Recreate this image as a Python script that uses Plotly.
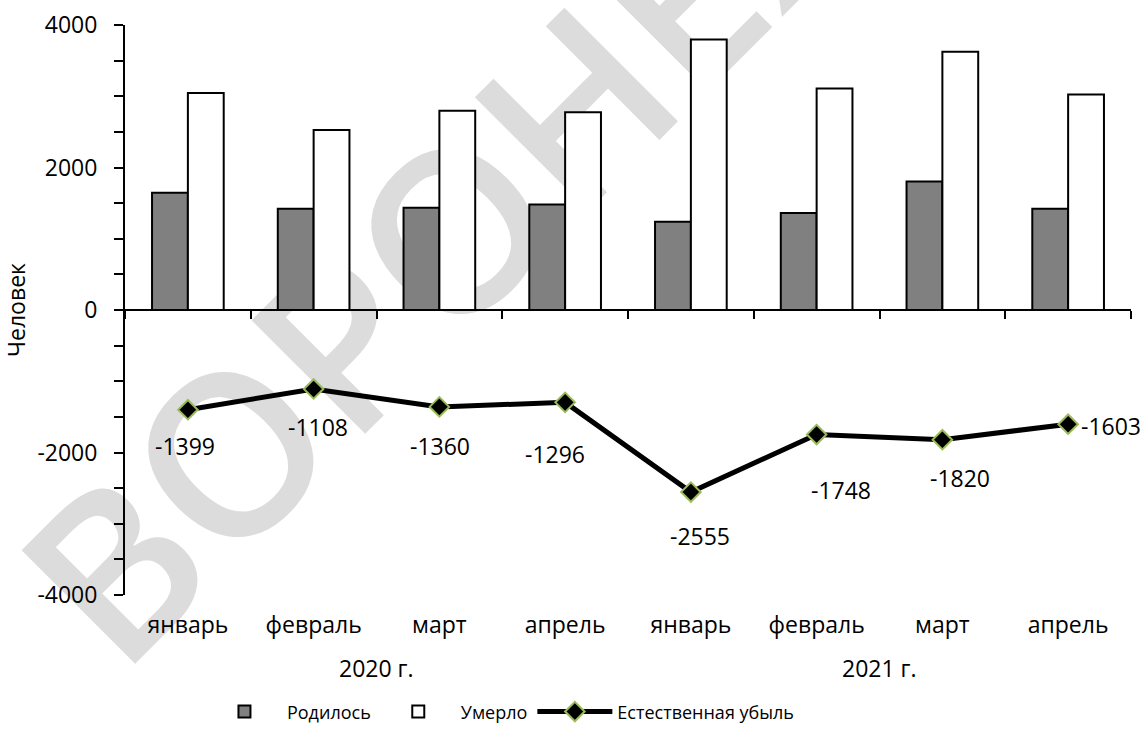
import plotly.graph_objects as go

years = ["2020 г.", "2021 г."]
months = ["январь", "февраль", "март", "апрель", "январь", "февраль", "март", "апрель"]
point_year = [years[0]] * 4 + [years[1]] * 4
born = [1645, 1420, 1435, 1480, 1240, 1360, 1805, 1420]
died = [3044, 2528, 2795, 2776, 3795, 3108, 3625, 3023]
natural_loss = [-1399, -1108, -1360, -1296, -2555, -1748, -1820, -1603]
y_ticks = [-4000, -2000, 0, 2000, 4000]
y_tick_text = ["-4000", "-2000", "0", "2000", "4000"]
# label offsets (px): dx right, dy down
label_dx = [-3, 4, 1, -10, 9, 24, 18, 43]
label_dy = [36, 38, 39, 52, 44, 55, 38, 2]

FONT = "Open Sans"
FS = 23
idx = list(range(len(months)))

fig = go.Figure()
fig.add_trace(go.Bar(
    name="Родилось", x=idx, y=born,
    marker=dict(color="#808080", line=dict(color="black", width=2)),
    hoverinfo="skip"))
fig.add_trace(go.Bar(
    name="Умерло", x=idx, y=died,
    marker=dict(color="white", line=dict(color="black", width=2)),
    hoverinfo="skip"))
fig.add_trace(go.Scatter(
    name="Естественная убыль", x=idx, y=natural_loss, xaxis="x2",
    mode="lines+markers",
    line=dict(color="black", width=5),
    marker=dict(symbol="diamond", size=15, color="black",
                line=dict(color="#9bbb59", width=2)),
    hoverinfo="skip"))

for i, v in enumerate(natural_loss):
    fig.add_annotation(x=i, y=v, xref="x", yref="y", text=str(v),
                       showarrow=False, xshift=label_dx[i], yshift=-label_dy[i],
                       font=dict(family=FONT, size=FS, color="black"))

# year group labels centred under their months
for yname in years:
    pos = [i for i in idx if point_year[i] == yname]
    fig.add_annotation(x=sum(pos) / len(pos), y=0, xref="x", yref="paper",
                       text=yname, showarrow=False, yanchor="middle", yshift=-73,
                       font=dict(family=FONT, size=FS, color="black"))

fig.add_shape(type="line", xref="paper", yref="paper",
              x0=0.334, y0=0.647, x1=0.354, y1=0.647,
              line=dict(width=0, color="rgba(0,0,0,0)"), layer="below",
              label=dict(text="ВОРОНЕЖ", textposition="middle", textangle=-45,
                         xanchor="center", yanchor="middle", padding=0,
                         font=dict(family=FONT, size=225, color="#dcdcdc", weight=600)))

fig.update_layout(
    width=1148, height=746,
    margin=dict(l=125, r=17, t=25, b=151, autoexpand=False),
    paper_bgcolor="white", plot_bgcolor="rgba(0,0,0,0)",
    barmode="group", bargap=0.43, bargroupgap=0,
    font=dict(family=FONT, size=FS, color="black"),
    showlegend=True,
    legend=dict(orientation="h", x=0.0765, xanchor="left", y=-0.205, yanchor="middle",
                itemwidth=75, font=dict(family=FONT, size=18), traceorder="normal"),
    xaxis=dict(range=[-0.5, 7.5], tickmode="array", tickvals=idx, ticktext=months,
               showline=False, ticks="", showgrid=False, zeroline=False,
               ticklabelstandoff=14, automargin=False,
               tickfont=dict(family=FONT, size=FS)),
    xaxis2=dict(overlaying="x", anchor="free", position=0.5, side="bottom",
                range=[-0.5, 7.5], tickmode="array",
                tickvals=[i - 0.5 for i in range(len(months) + 1)],
                showticklabels=False, showline=True, linecolor="black", linewidth=2,
                ticks="outside", ticklen=8, tickwidth=2, tickcolor="black",
                showgrid=False, zeroline=False, automargin=False),
    yaxis=dict(range=[-4000, 4000], tickmode="array", tickvals=y_ticks, ticktext=y_tick_text,
               showline=True, linecolor="black", linewidth=2,
               ticks="outside", ticklen=9, tickwidth=2, tickcolor="black",
               minor=dict(dtick=500, ticks="outside", ticklen=9, tickwidth=2, tickcolor="black"),
               showgrid=False, zeroline=False, ticklabelstandoff=12, automargin=False,
               title=dict(text="Человек", font=dict(family=FONT, size=23), standoff=8),
               tickfont=dict(family=FONT, size=FS)),
)

fig.write_html("out.html", config={"displayModeBar": False},
               post_script="document.body.style.margin='0';")
